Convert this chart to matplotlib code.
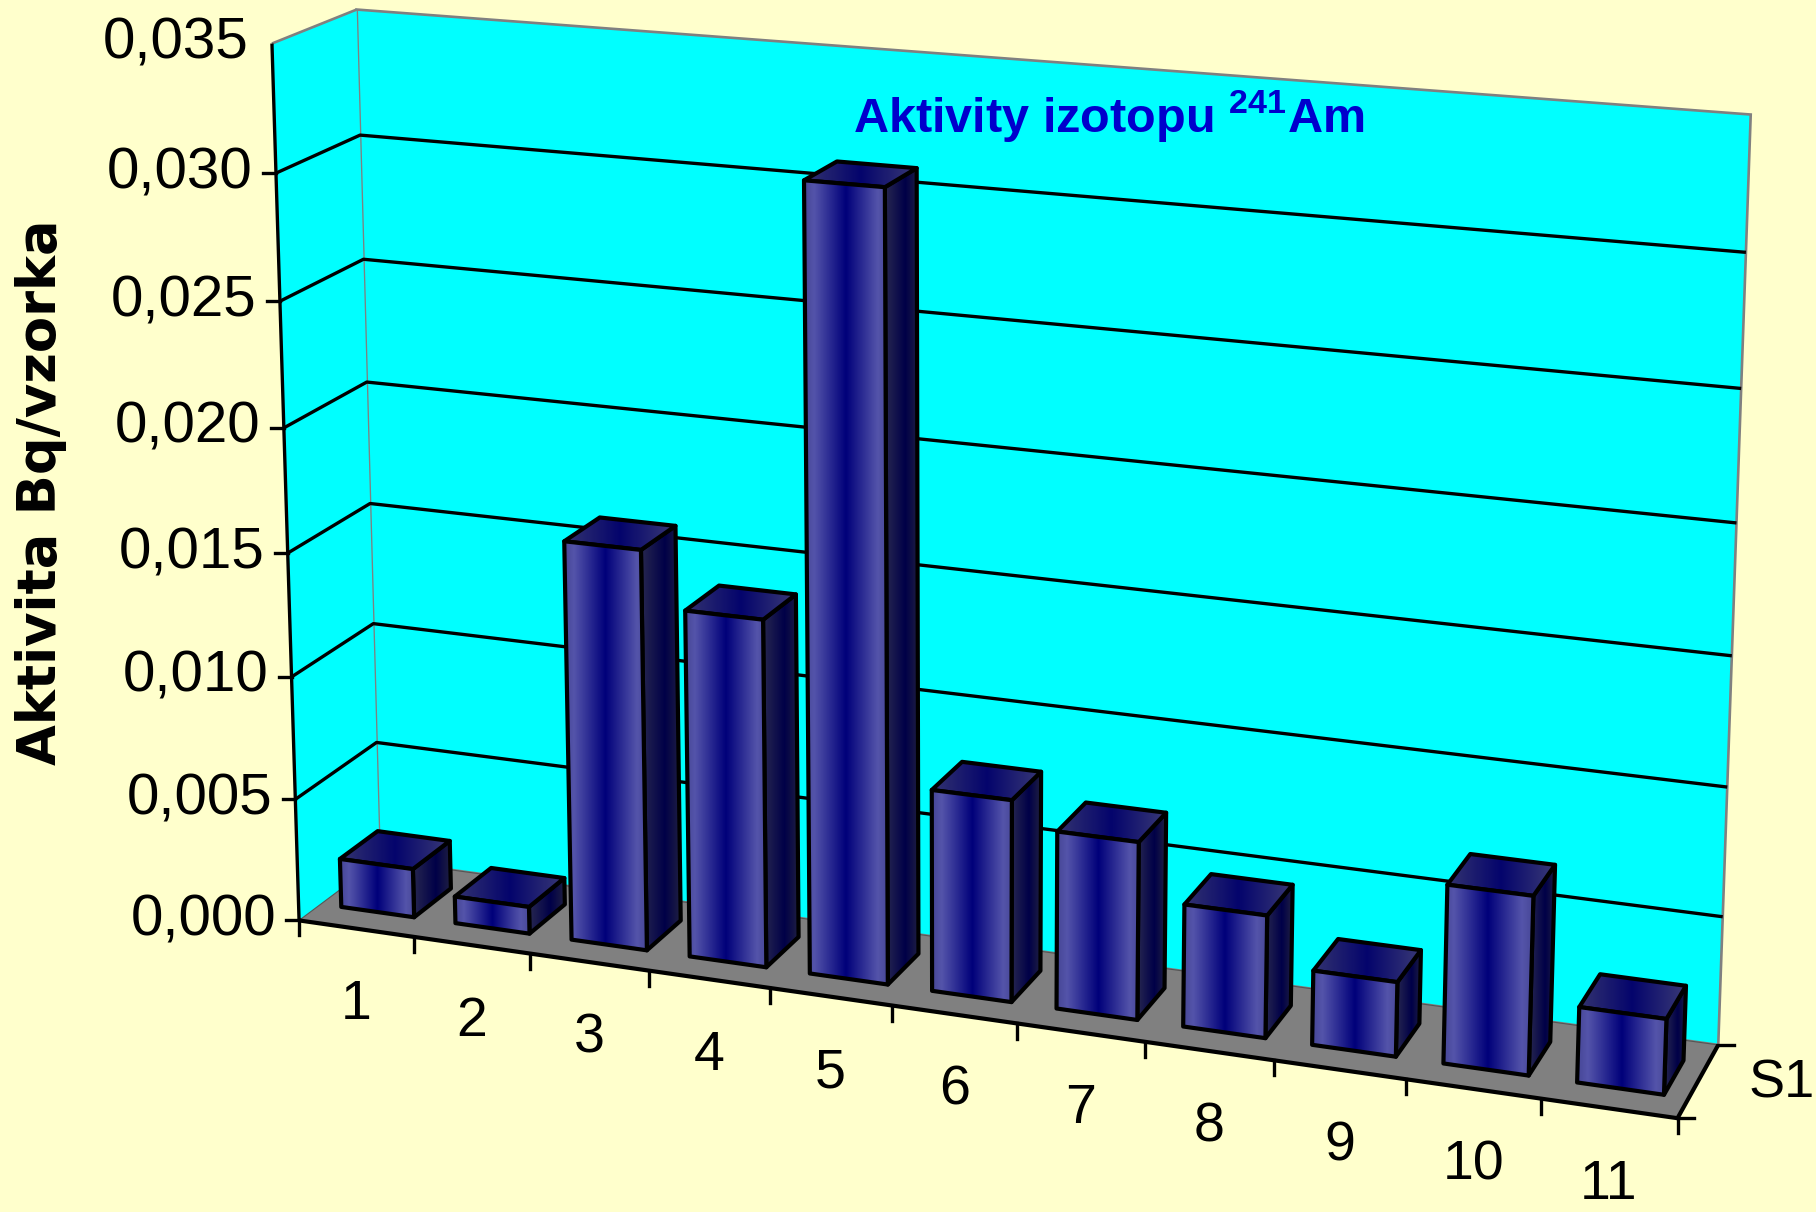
import numpy as np
import matplotlib
matplotlib.use('Agg')
import matplotlib.pyplot as plt
from matplotlib.patches import Polygon

# --- data ---
samples = ['1', '2', '3', '4', '5', '6', '7', '8', '9', '10', '11']
activity = [0.0020, 0.0011, 0.0161, 0.0139, 0.0310, 0.0080, 0.0070, 0.0048, 0.0029, 0.0069, 0.0029]
series_name = 'S1'
value_ticks = [0.000, 0.005, 0.010, 0.015, 0.020, 0.025, 0.030, 0.035]
value_labels = ['0,000', '0,005', '0,010', '0,015', '0,020', '0,025', '0,030', '0,035']
chart_title = r'Aktivity izotopu $^{241}$Am'
y_title = 'Aktivita Bq/vzorka'

STEP = 0.005                 # one unit of the vertical world axis
N = len(samples)
TOP = value_ticks[-1] / STEP
BAR_W = 0.64                 # bar width as part of one category
BAR_D = 0.47                 # bar depth as part of the floor depth

# canvas in which the 3d frame is laid out
CW, CH = 1568, 1046

# frame anchors: (category, value unit, depth) -> canvas point
frame_world = [(0, 0, 0), (0, 7, 0), (0, 7, 1), (11, 7, 1), (11, 0, 1), (11, 0, 0),
               (0, 6, 0), (0, 1, 0), (0, 6, 1), (0, 1, 1), (11, 6, 1), (11, 5, 1),
               (11, 1, 1), (1, 0, 0), (3, 0, 0), (4, 0, 0), (5, 0, 0), (7, 0, 0),
               (9, 0, 0), (10, 0, 0)]
frame_canvas = [(257.5, 795), (235.5, 38), (308.5, 8), (1513, 97), (1484, 902), (1448, 964.5),
                (237.5, 150), (254, 688), (310.5, 117), (325.5, 640), (1507, 217.5), (1502, 337),
                (1487, 792), (357.5, 809), (561, 838), (665, 853), (771, 868), (988, 899),
                (1214, 931), (1331, 948)]


def fit_camera(world, image):
    w = np.asarray(world, float)
    p = np.asarray(image, float)
    wm = w.mean(0)
    ws = np.sqrt(3) / np.mean(np.linalg.norm(w - wm, axis=1))
    pm = p.mean(0)
    ps = np.sqrt(2) / np.mean(np.linalg.norm(p - pm, axis=1))
    U = np.diag([ws, ws, ws, 1.0])
    U[:3, 3] = -ws * wm
    T = np.diag([ps, ps, 1.0])
    T[:2, 2] = -ps * pm
    rows = []
    for (X, Y, Z), (u, v) in zip((w - wm) * ws, (p - pm) * ps):
        rows.append([X, Y, Z, 1, 0, 0, 0, 0, -u * X, -u * Y, -u * Z, -u])
        rows.append([0, 0, 0, 0, X, Y, Z, 1, -v * X, -v * Y, -v * Z, -v])
    Pn = np.linalg.svd(np.array(rows))[2][-1].reshape(3, 4)
    return np.linalg.inv(T) @ Pn @ U


CAM = fit_camera(frame_world, frame_canvas)


def proj(x, y, z):
    h = CAM @ np.array([x, y, z, 1.0])
    return h[0] / h[2], h[1] / h[2]


def pts(corners):
    return [proj(*c) for c in corners]


def line3(ax, corners, **kw):
    p = pts(corners)
    ax.plot([q[0] for q in p], [q[1] for q in p], solid_capstyle='butt', **kw)


def ramp(stops, n=256):
    pos = [s[0] for s in stops]
    t = np.linspace(0, 1, n)
    rgb = np.stack([np.interp(t, pos, [s[1][k] / 255 for s in stops]) for k in range(3)], axis=-1)
    return rgb[np.newaxis, :, :]


FRONT = ramp([(0.0, (70, 70, 150)), (0.12, (84, 84, 170)), (0.5, (0, 0, 122)),
              (0.88, (84, 84, 170)), (1.0, (72, 72, 152))])
TOPC = ramp([(0.0, (52, 52, 112)), (0.5, (4, 4, 108)), (1.0, (58, 58, 118))])
SIDE = ramp([(0.0, (40, 40, 80)), (0.6, (0, 0, 72)), (1.0, (32, 32, 66))])


def shaded(ax, corners, img, z):
    p = pts(corners)
    poly = Polygon(p, closed=True, facecolor='none', edgecolor='black', lw=3.0,
                   joinstyle='round', zorder=z + 0.01)
    ax.add_patch(poly)
    xs = [q[0] for q in p]
    ys = [q[1] for q in p]
    im = ax.imshow(img, extent=(min(xs), max(xs), max(ys), min(ys)), aspect='auto',
                   interpolation='bilinear', zorder=z)
    im.set_clip_path(poly)


plt.rcParams['mathtext.default'] = 'regular'
num_font = ['Liberation Sans', 'DejaVu Sans']

fig = plt.figure(figsize=(18.16, 12.12), dpi=100)
fig.patch.set_facecolor('#FFFFCC')
ax = fig.add_axes([0, 0, 1, 1])
ax.axis('off')

# walls and floor
ax.add_patch(Polygon(pts([(0, 0, 1), (N, 0, 1), (N, TOP, 1), (0, TOP, 1)]), closed=True,
                     facecolor='#00FFFF', edgecolor='#808080', lw=1.9, zorder=1))
ax.add_patch(Polygon(pts([(0, 0, 0), (0, 0, 1), (0, TOP, 1), (0, TOP, 0)]), closed=True,
                     facecolor='#00FFFF', edgecolor='none', zorder=1))
line3(ax, [(0, TOP, 0), (0, TOP, 1)], color='#808080', lw=1.9, zorder=2)
ax.add_patch(Polygon(pts([(0, 0, 0), (N, 0, 0), (N, 0, 1), (0, 0, 1)]), closed=True,
                     facecolor='#808080', edgecolor='none', zorder=2))
line3(ax, [(0, 0, 1), (N, 0, 1)], color='#555555', lw=0.8, zorder=2)
line3(ax, [(0, 0, 0), (0, 0, 1)], color='#555555', lw=0.8, zorder=2)

# gridlines on the side and back wall
for k in range(1, len(value_ticks) - 1):
    line3(ax, [(0, k, 0), (0, k, 1), (N, k, 1)], color='black', lw=2.4, zorder=3)

# value axis
line3(ax, [(0, 0, 0), (0, TOP, 0)], color='black', lw=2.4, zorder=4)
for k, (v, lab) in enumerate(zip(value_ticks, value_labels)):
    u, w = proj(0, v / STEP, 0)
    if k < len(value_ticks) - 1:
        ax.plot([u - 11, u], [w, w], color='black', lw=2.4, zorder=4)
    ax.text(u - 20, w, lab, ha='right', va='center', fontsize=42, family=num_font)

# category axis
line3(ax, [(0, 0, 0), (N, 0, 0)], color='black', lw=3.0, zorder=4)
for i in range(N + 1):
    u, w = proj(i, 0, 0)
    ax.plot([u, u], [w, w + 13], color='black', lw=2.4, zorder=4)
for i, lab in enumerate(samples):
    u, w = proj(i + 0.5, 0, 0)
    ax.text(u, w + 66, lab, ha='center', va='center', fontsize=40, family=num_font)

# series axis
line3(ax, [(N, 0, 0), (N, 0, 1)], color='black', lw=3.0, zorder=4)
for d in (0, 1):
    u, w = proj(N, 0, d)
    ax.plot([u, u + 14], [w, w], color='black', lw=2.4, zorder=4)
u, w = proj(N, 0, 0.5)
ax.text(u + 43, w + 2, series_name, ha='left', va='center', fontsize=39, family=num_font)

# columns, left to right
z0 = (1 - BAR_D) / 2
z1 = (1 + BAR_D) / 2
zo = 10
for i, val in enumerate(activity):
    x0 = i + (1 - BAR_W) / 2
    x1 = i + (1 + BAR_W) / 2
    h = val / STEP
    shaded(ax, [(x1, 0, z0), (x1, 0, z1), (x1, h, z1), (x1, h, z0)], SIDE, zo)
    shaded(ax, [(x0, h, z0), (x1, h, z0), (x1, h, z1), (x0, h, z1)], TOPC, zo + 1)
    shaded(ax, [(x0, 0, z0), (x1, 0, z0), (x1, h, z0), (x0, h, z0)], FRONT, zo + 2)
    zo += 3

ax.text(957, 100, chart_title, ha='center', va='center', fontsize=35, fontweight='bold',
        color='#0000CC', family=['Liberation Sans', 'DejaVu Sans'], zorder=50)
ax.text(35, 425, y_title, ha='center', va='center', rotation=90, fontsize=38,
        fontweight='bold', family='DejaVu Sans')

ax.set_xlim(0, CW)
ax.set_ylim(CH, 0)
fig.savefig('out.png', dpi=100, facecolor=fig.get_facecolor())
